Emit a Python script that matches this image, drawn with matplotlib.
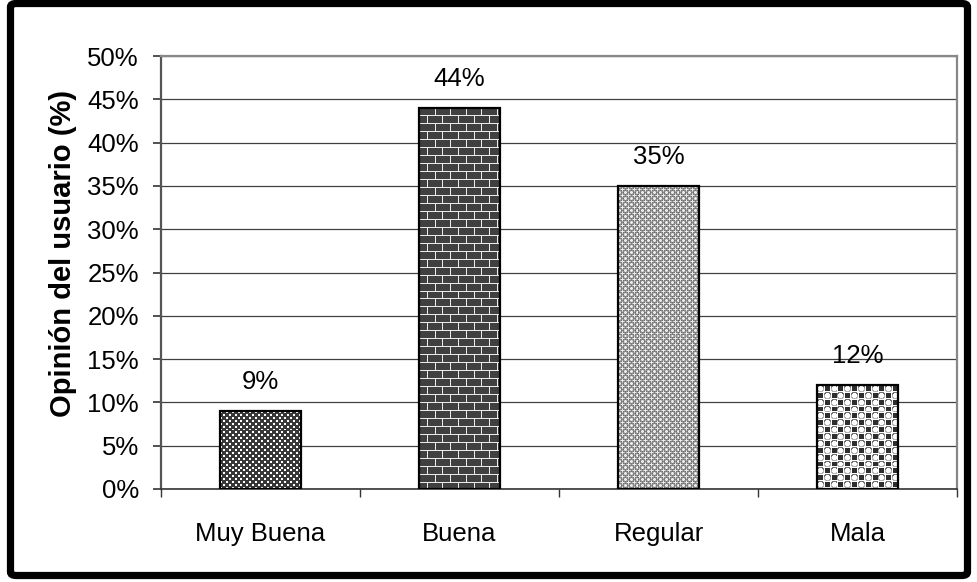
import numpy as np
import matplotlib
matplotlib.use("Agg")
import matplotlib.pyplot as plt
from matplotlib.patches import FancyBboxPatch

plt.rcParams['font.family'] = ['Liberation Sans', 'DejaVu Sans']

# ---- data ----
categories = ["Muy Buena", "Buena", "Regular", "Mala"]
values = [9, 44, 35, 12]          # percent
y_ticks = [0, 5, 10, 15, 20, 25, 30, 35, 40, 45, 50]
y_label = "Opinión del usuario (%)"


# ---- fill textures (pixel tiles, grey levels 0..1) ----
def tile_dots():
    t = np.full((6, 6), 0.22)
    t[0:2, 0:2] = 1.0
    t[3:5, 3:5] = 1.0
    return t


def tile_brick():
    t = np.full((16, 16), 0.25)
    t[0, :] = 0.92
    t[8, :] = 0.92
    t[1:8, 0] = 0.92
    t[9:16, 8] = 0.92
    return t


def tile_fine():
    t = np.full((6, 6), 0.55)
    t[::2, ::2] = 0.72
    t[1::2, 1::2] = 0.45
    t[1, 1] = 1.0
    t[4, 4] = 1.0
    t[0:3, 1] = 0.92
    t[1, 0:3] = 0.92
    t[3:6, 4] = 0.92
    t[4, 3:6] = 0.92
    return t


def tile_circles():
    n = 14
    t = np.full((n, n), 1.0)
    yy, xx = np.mgrid[0:n, 0:n] + 0.5
    for cy, cx in [(3.5, 3.5), (10.5, 10.5)]:
        d = np.hypot(yy - cy, xx - cx)
        ring = (d > 2.6) & (d < 3.7)
        t[ring & (yy < cy)] = 0.45
        t[ring & (yy >= cy)] = 0.7
    for cy, cx in [(3, 10), (10, 3)]:
        t[cy - 2:cy + 3, cx - 2:cx + 3] = 0.18
    return t


tiles = [tile_dots(), tile_brick(), tile_fine(), tile_circles()]

# ---- figure ----
W, H, DPI = 978, 582, 100
fig = plt.figure(figsize=(W / DPI, H / DPI), dpi=DPI)
ax = fig.add_axes([161 / W, 1 - 489 / H, 796 / W, 433 / H])

x = np.arange(len(categories))
bar_w = 0.41
ax.set_xlim(-0.5, len(categories) - 0.5)
ax.set_ylim(0, 50)

bars = ax.bar(x, values, width=bar_w, facecolor='none', edgecolor='black',
              linewidth=1.6, zorder=4)

# textured fills clipped to each bar
for bar, tile in zip(bars, tiles):
    x0, y0 = bar.get_x(), bar.get_y()
    x1, y1 = x0 + bar.get_width(), y0 + bar.get_height()
    p0 = ax.transData.transform((x0, y0))
    p1 = ax.transData.transform((x1, y1))
    pw = int(round(abs(p1[0] - p0[0]))) + 2
    ph = int(round(abs(p1[1] - p0[1]))) + 2
    reps = (ph // tile.shape[0] + 2, pw // tile.shape[1] + 2)
    img = np.tile(tile, reps)[:ph, :pw]
    im = ax.imshow(img, cmap='gray', vmin=0, vmax=1, extent=(x0, x1, y0, y1),
                   interpolation='nearest', aspect='auto', zorder=3)
    im.set_clip_path(bar)

ax.set_xlim(-0.5, len(categories) - 0.5)
ax.set_ylim(0, 50)

# value labels
for xi, v in zip(x, values):
    ax.annotate(f"{v}%", (xi, v), xytext=(0, 21), textcoords='offset points',
                ha='center', va='center', fontsize=18.5)

# y axis
ax.set_yticks(y_ticks)
ax.set_yticklabels([f"{t}%" for t in y_ticks], fontsize=18.5)
ax.tick_params(axis='y', which='major', direction='out', length=6,
               width=1.2, color='#333333', pad=10)
ax.yaxis.grid(True, color='#404040', linewidth=0.9)
ax.set_axisbelow(True)

# x axis: ticks at category boundaries, labels at centers
ax.set_xticks(np.arange(-0.5, len(categories), 1.0))
ax.set_xticklabels([])
ax.set_xticks(x, minor=True)
ax.set_xticklabels(categories, minor=True, fontsize=18.5)
ax.tick_params(axis='x', which='major', direction='out', length=6,
               width=1.0, color='#333333')
ax.tick_params(axis='x', which='minor', length=0, pad=24)

ax.set_ylabel(y_label, fontsize=21, fontweight='bold')
ax.yaxis.set_label_coords(-0.106, 0.545)

for side in ['top', 'right']:
    ax.spines[side].set_color('#888888')
    ax.spines[side].set_linewidth(1.6)
ax.spines['left'].set_color('#555555')
ax.spines['left'].set_linewidth(1.6)
ax.spines['bottom'].set_color('#333333')
ax.spines['bottom'].set_linewidth(1.2)

# outer frame
frame = FancyBboxPatch((10.5 / W, 6.5 / H), (W - 21) / W, (H - 10) / H,
                       boxstyle="round,pad=0,rounding_size=0.006",
                       transform=fig.transFigure, fill=False,
                       edgecolor='black', linewidth=5.2, zorder=10)
fig.patches.append(frame)

fig.savefig("out.png", dpi=DPI, facecolor='white')
